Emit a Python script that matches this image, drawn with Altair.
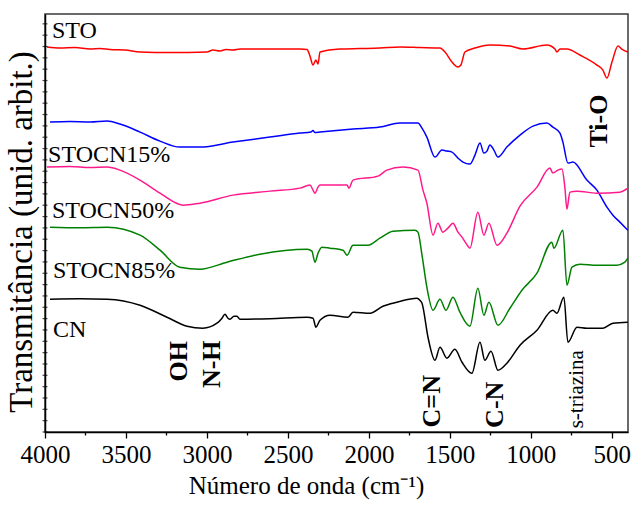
import altair as alt
import pandas as pd

# ---- data (wavenumber in cm-1, transmittance in arbitrary units) ----
sto_wn = [3988, 3907, 3815, 3722, 3660, 3599, 3506, 3413, 3228, 3000, 2963, 2920, 2882, 2839, 2796,
          2426, 2382, 2364, 2345, 2327, 2314, 2302, 2179, 2055, 1932, 1808, 1685, 1561, 1530, 1487,
          1450, 1432, 1407, 1345, 1253, 1129, 1049, 901, 851, 839, 820, 777, 697, 592, 555, 530,
          499, 462, 438, 401]
sto_t = [384.7, 383.7, 384.2, 382.7, 383.2, 382.2, 381.7, 379.7, 379.2, 379.7, 381.7, 380.7, 382.2,
         381.7, 382.7, 382.7, 382.2, 375.7, 366.7, 371.7, 367.7, 379.7, 382.7, 383.2, 383.7, 384.7,
         384.2, 383.7, 379.7, 369.7, 364.7, 366.7, 379.7, 383.7, 386.7, 385.7, 382.7, 386.7, 382.7,
         379.7, 382.7, 382.7, 376.7, 366.7, 361.7, 353.7, 369.7, 385.7, 382.7, 379.7]

s15_wn = [3969, 3846, 3722, 3617, 3537, 3413, 3290, 3167, 3043, 2839, 2611, 2426, 2358, 2345, 2333,
          2302, 2098, 1932, 1808, 1697, 1672, 1642, 1592, 1549, 1518, 1487, 1450, 1419, 1376, 1345,
          1314, 1290, 1271, 1253, 1228, 1203, 1148, 1067, 987, 901, 864, 820, 802, 771, 740, 654,
          592, 530, 493, 450, 401]
s15_t = [309.7, 310.2, 309.7, 310.7, 307.7, 299.7, 290.7, 284.7, 284.7, 289.7, 294.7, 298.7, 299.7,
         301.2, 299.2, 299.7, 302.7, 304.7, 308.7, 308.7, 303.7, 294.7, 274.7, 281.7, 280.7, 279.7,
         273.7, 269.7, 267.7, 276.7, 288.7, 278.7, 280.7, 286.7, 281.7, 274.7, 284.7, 296.7, 305.7,
         308.7, 304.7, 298.7, 289.7, 268.7, 269.7, 251.7, 241.7, 224.7, 216.7, 209.7, 201.7]

s50_wn = [3988, 3846, 3722, 3617, 3537, 3413, 3290, 3148, 3043, 2839, 2611, 2426, 2364, 2345, 2333,
          2314, 2302, 2135, 2123, 2098, 1944, 1889, 1790, 1697, 1666, 1642, 1604, 1574, 1543, 1512,
          1481, 1450, 1425, 1401, 1376, 1327, 1290, 1259, 1209, 1148, 1067, 962, 882, 864, 833,
          808, 790, 777, 759, 715, 592, 450, 401]
s50_t = [264.7, 265.2, 264.2, 264.7, 261.7, 251.7, 238.7, 226.7, 228.7, 236.7, 240.7, 243.7, 246.7,
         241.7, 238.7, 244.7, 246.7, 246.7, 243.7, 251.7, 255.7, 261.7, 264.7, 261.7, 241.7, 228.7,
         196.7, 208.7, 199.7, 203.7, 208.7, 199.7, 194.7, 188.7, 183.7, 219.7, 196.7, 208.7, 186.7,
         198.7, 225.7, 244.7, 263.7, 258.7, 261.7, 262.7, 244.7, 222.7, 239.7, 240.7, 238.7, 239.7,
         243.7]

s85_wn = [3969, 3784, 3617, 3413, 3290, 3167, 3043, 2876, 2673, 2382, 2352, 2333, 2314, 2290, 2240,
          2160, 2135, 2098, 2006, 1932, 1851, 1716, 1697, 1672, 1642, 1604, 1561, 1524, 1481, 1438,
          1376, 1327, 1290, 1259, 1203, 1129, 1055, 962, 870, 858, 802, 777, 746, 697, 592, 469,
          419, 401]
s85_t = [204.7, 204.2, 204.7, 196.7, 181.7, 164.7, 162.7, 169.7, 177.7, 182.7, 180.7, 169.7, 178.7,
         184.7, 183.7, 181.7, 176.7, 186.7, 186.7, 193.7, 200.7, 201.7, 199.7, 176.7, 144.7, 121.7,
         132.7, 121.7, 134.7, 119.7, 105.7, 143.7, 116.7, 129.7, 106.7, 123.7, 141.7, 158.7, 189.7,
         183.7, 201.7, 146.7, 164.7, 167.7, 166.7, 166.7, 169.7, 173.7]

cn_wn = [3969, 3784, 3617, 3413, 3247, 3123, 3025, 2938, 2907, 2889, 2870, 2858, 2833, 2815, 2796,
         2611, 2382, 2345, 2327, 2302, 2240, 2129, 2098, 1993, 1913, 1827, 1703, 1685, 1672, 1635,
         1592, 1561, 1518, 1469, 1425, 1364, 1314, 1284, 1246, 1203, 1148, 1067, 962, 864, 839,
         796, 771, 715, 654, 555, 493, 401]
cn_t = [132.7, 133.2, 132.7, 126.7, 114.7, 105.7, 103.7, 108.7, 113.7, 117.7, 113.7, 112.7, 115.7,
        115.7, 112.7, 113.2, 114.7, 113.7, 104.7, 111.7, 116.7, 114.7, 119.7, 118.7, 125.7, 129.7,
        133.7, 131.7, 128.7, 94.7, 71.7, 84.7, 73.7, 82.7, 69.7, 58.7, 89.7, 71.7, 80.7, 61.7,
        68.7, 86.7, 101.7, 121.7, 118.7, 134.7, 89.7, 104.7, 103.7, 103.7, 108.7, 109.7]

series_names = ["STO", "STOCN15%", "STOCN50%", "STOCN85%", "CN"]
series_colors = ["#FF0000", "#0000FF", "#FF1A8C", "#008000", "#000000"]

label_text = ["STO", "STOCN15%", "STOCN50%", "STOCN85%", "CN"]
label_wn = [3957, 3981, 3957, 3951, 3951]
label_t = [393.7, 269.7, 213.7, 153.7, 94.7]

band_text = ["OH", "N-H", "C=N", "C-N", "Ti-O"]
band_wn = [3173, 2970, 1611, 1222, 577]
band_t = [70.7, 67.7, 30.7, 27.2, 310.7]

triaz_text = ["s-triazina"]
triaz_wn = [715]
triaz_t = [42.7]

y_title = ["Transmitância (unid. arbit.)"]
x_title = "Número de onda (cm⁻¹)"

x_ticks = [4000, 3750, 3500, 3250, 3000, 2750, 2500, 2250, 2000, 1750, 1500, 1250, 1000, 750, 500]
y_tick_step = 11.33
y_ticks = [round(k * y_tick_step, 2) for k in range(37)]

# ---- build tables ----
rows = []
for name, wn, t in zip(series_names, [sto_wn, s15_wn, s50_wn, s85_wn, cn_wn],
                       [sto_t, s15_t, s50_t, s85_t, cn_t]):
    for i, (w, v) in enumerate(zip(wn, t)):
        rows.append({"serie": name, "wn": w, "t": v, "i": i})
spec_df = pd.DataFrame(rows)
lab_df = pd.DataFrame({"wn": label_wn, "t": label_t, "txt": label_text})
band_df = pd.DataFrame({"wn": band_wn, "t": band_t, "txt": band_text})
tri_df = pd.DataFrame({"wn": triaz_wn, "t": triaz_t, "txt": triaz_text})
yt_df = pd.DataFrame({"wn": [4000] * len(y_ticks), "t": y_ticks})
ytitle_df = pd.DataFrame({"txt": y_title})

FONT = "Liberation Serif"
xscale = alt.Scale(domain=[400, 4000], reverse=True, nice=False, zero=False)
yscale = alt.Scale(domain=[0, 417.7], nice=False, zero=False)

x_axis = alt.Axis(
    values=x_ticks, format="d", grid=False,
    labelExpr="datum.value % 500 === 0 ? datum.label : ''",
    labelFont=FONT, labelFontSize=25, labelColor="black", labelPadding=4,
    labelOverlap=False, labelFlush=False,
    tickSize={"condition": {"test": "datum.value % 500 === 0", "value": 6}, "value": 3},
    tickColor="black", tickWidth=1.3,
    domainColor="black", domainWidth=1.5,
    title=x_title, titleFont=FONT, titleFontSize=25, titleFontWeight="normal",
    titleColor="black", titleX=261, titleY=61, titleBaseline="alphabetic", titleAnchor="middle",
    titleAlign="center",
)
y_axis = alt.Axis(
    labels=False, ticks=False, grid=False, domainColor="black", domainWidth=1.5, title="",
)

X = alt.X("wn:Q", scale=xscale, axis=x_axis)
Y = alt.Y("t:Q", scale=yscale, axis=y_axis)

lines = alt.Chart(spec_df).mark_line(strokeWidth=1.5, interpolate="monotone").encode(
    x=X, y=Y,
    color=alt.Color("serie:N", scale=alt.Scale(domain=series_names, range=series_colors), legend=None),
    order="i:Q",
    detail="serie:N",
)

yticks = alt.Chart(yt_df).mark_tick(color="black", thickness=1.2, size=5, orient="horizontal").encode(
    y=Y,
    x=X,
)

labels = alt.Chart(lab_df).mark_text(font=FONT, fontSize=24, align="left", baseline="alphabetic",
                                     color="black").encode(x=X, y=Y, text="txt:N")

bands = alt.Chart(band_df).mark_text(font=FONT, fontSize=26, fontWeight="bold", angle=270,
                                    align="center", baseline="middle", color="black").encode(
    x=X, y=Y, text="txt:N")

tri = alt.Chart(tri_df).mark_text(font=FONT, fontSize=21, angle=270, align="center",
                                  baseline="middle", color="black").encode(x=X, y=Y, text="txt:N")

ytitle = alt.Chart(ytitle_df).mark_text(font=FONT, fontSize=33, angle=270, align="center",
                                        baseline="alphabetic", color="#000000").encode(
    x=alt.value(-13), y=alt.value(218), text="txt:N")

chart = alt.layer(lines, yticks, labels, bands, tri, ytitle).properties(
    width=583, height=418,
    autosize=alt.AutoSizeParams(type="none"),
    padding={"left": 45, "top": 14, "right": 4, "bottom": 91},
).configure(background="white", font=FONT).configure_view(
    stroke="#3a3a3a", strokeWidth=1.5
).configure_axis(labelFont=FONT, titleFont=FONT, titleColor="#000000", labelColor="#000000"
).configure_text(font=FONT)

chart.save("out.html", embed_options={"renderer": "svg", "actions": False})
